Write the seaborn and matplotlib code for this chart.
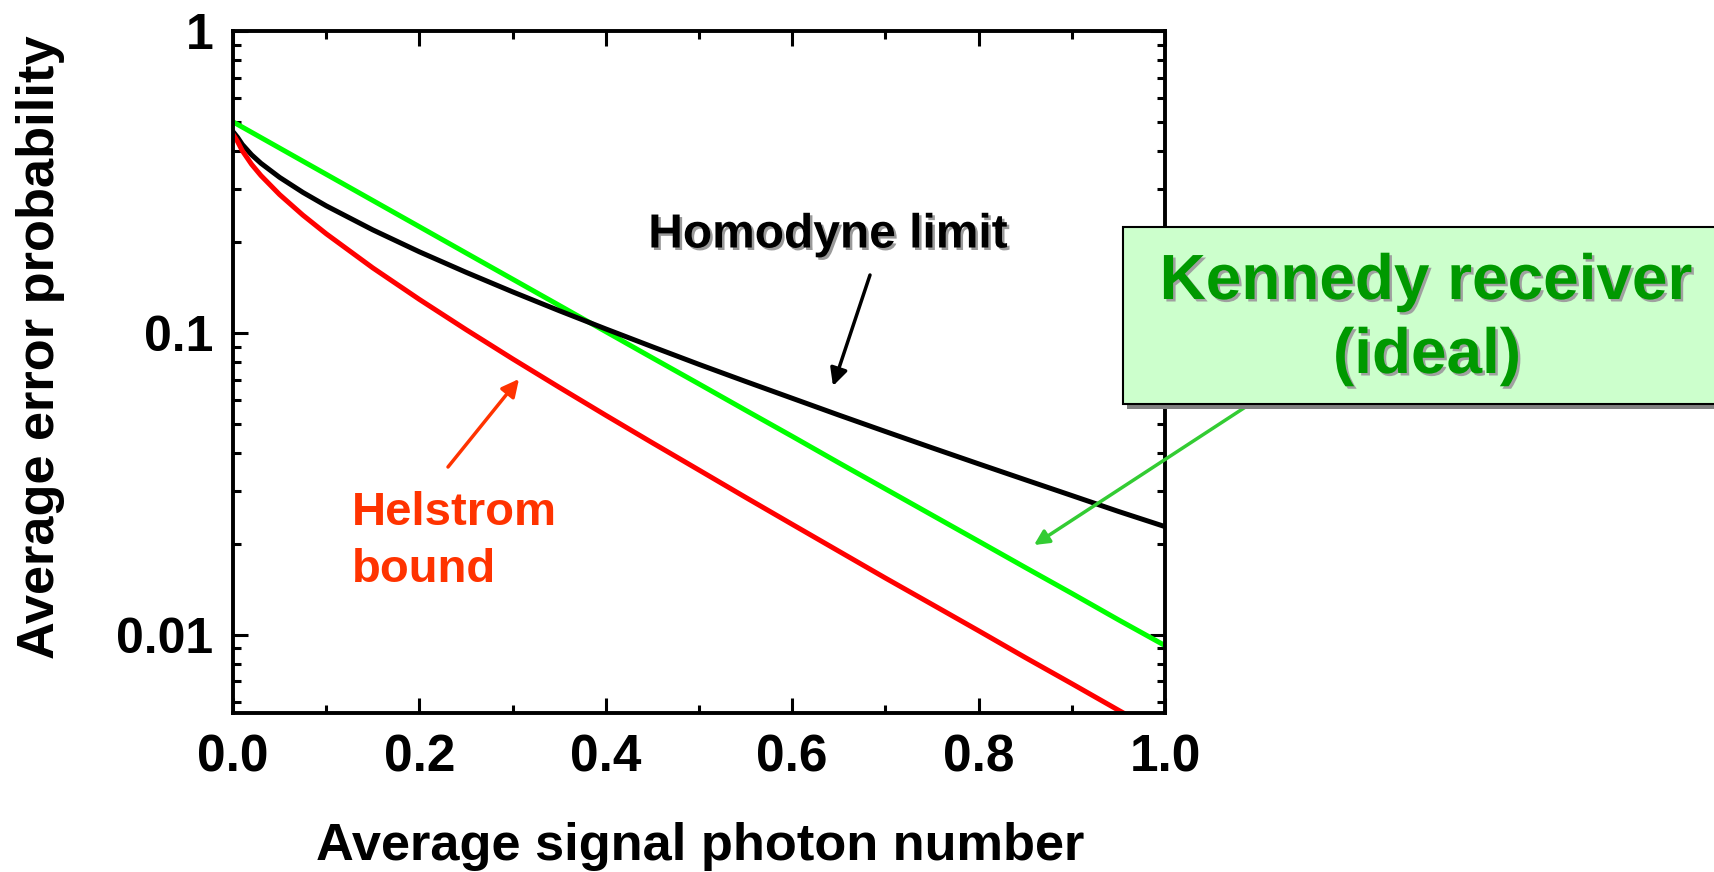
import matplotlib
matplotlib.use("Agg")
import numpy as np
import pandas as pd
import seaborn as sns
import matplotlib.pyplot as plt
from matplotlib import patheffects as pe
from matplotlib.patches import Rectangle
from matplotlib.ticker import FixedLocator, NullFormatter, FixedFormatter

# Average signal photon number
photon_number = [0.0, 0.005, 0.01, 0.02, 0.03, 0.05, 0.075, 0.1, 0.15, 0.2, 0.25,
                 0.3, 0.35, 0.4, 0.45, 0.5, 0.55, 0.6, 0.65, 0.7, 0.75, 0.8,
                 0.85, 0.9, 0.95, 1.0]

# Average error probability for each receiver
helstrom = [0.455, 0.4296, 0.4010, 0.3614, 0.3319, 0.2871, 0.2454, 0.2129, 0.1641,
            0.1290, 0.1025, 0.0820, 0.0660, 0.0533, 0.0432, 0.0351, 0.0285, 0.0232,
            0.0189, 0.0154, 0.0126, 0.0103, 0.0084, 0.00688, 0.00562, 0.0046]
homodyne = [0.464, 0.4438, 0.4207, 0.3887, 0.3645, 0.3274, 0.2919, 0.2635, 0.2193,
            0.1855, 0.1587, 0.1367, 0.1184, 0.1030, 0.0899, 0.0786, 0.0690, 0.0607,
            0.0534, 0.0471, 0.0416, 0.0368, 0.0326, 0.0289, 0.0256, 0.0228]
kennedy = [0.5, 0.4901, 0.4804, 0.4616, 0.4435, 0.4094, 0.3704, 0.3352, 0.2744,
           0.2247, 0.1839, 0.1506, 0.1233, 0.1009, 0.0826, 0.0677, 0.0554, 0.0454,
           0.0371, 0.0304, 0.0249, 0.0204, 0.0167, 0.0137, 0.0112, 0.0092]

x_ticks = [0.0, 0.2, 0.4, 0.6, 0.8, 1.0]
x_tick_labels = ["0.0", "0.2", "0.4", "0.6", "0.8", "1.0"]
y_ticks = [0.01, 0.1, 1.0]
y_tick_labels = ["0.01", "0.1", "1"]

sns.set_theme(style="ticks")
plt.rcParams["font.family"] = ["Liberation Sans", "DejaVu Sans"]
plt.rcParams["font.weight"] = "bold"
for key in ("text.color", "axes.labelcolor", "xtick.color", "ytick.color",
            "axes.edgecolor"):
    plt.rcParams[key] = "black"

W, H = 1715, 872
fig = plt.figure(figsize=(W / 100, H / 100), dpi=100)
ax = fig.add_axes([233 / W, 1 - 713 / H, (1165 - 233) / W, (713 - 31) / H])


def fx(px):
    return px / W


def fy(py):
    return 1 - py / H


df = pd.DataFrame({
    "n": photon_number * 3,
    "p": helstrom + homodyne + kennedy,
    "curve": ["Helstrom"] * len(photon_number) + ["Homodyne"] * len(photon_number)
             + ["Kennedy"] * len(photon_number),
})
palette = {"Helstrom": "#ff0000", "Homodyne": "#000000", "Kennedy": "#00ff00"}
sns.lineplot(data=df, x="n", y="p", hue="curve", palette=palette, linewidth=3.6,
             legend=False, ax=ax, hue_order=["Kennedy", "Homodyne", "Helstrom"])

ax.set_yscale("log")
ax.set_xlim(0, 1)
ax.set_ylim(0.0055, 1.0)
ax.xaxis.set_major_locator(FixedLocator(x_ticks))
ax.xaxis.set_major_formatter(FixedFormatter(x_tick_labels))
ax.xaxis.set_minor_locator(FixedLocator([0.1, 0.3, 0.5, 0.7, 0.9]))
ax.yaxis.set_major_locator(FixedLocator(y_ticks))
ax.yaxis.set_major_formatter(FixedFormatter(y_tick_labels))
minor_y = [m * 10.0 ** e for e in (-3, -2, -1) for m in range(2, 10)]
ax.yaxis.set_minor_locator(FixedLocator(minor_y))
ax.yaxis.set_minor_formatter(NullFormatter())
ax.set_xlabel("")
ax.set_ylabel("")

for s in ax.spines.values():
    s.set_linewidth(2.8)
    s.set_color("black")
    s.set_visible(True)
ax.tick_params(which="both", direction="in", top=True, right=True, color="black",
               width=2.2)
ax.tick_params(which="major", length=11)
ax.tick_params(which="minor", length=6)
ax.tick_params(axis="x", which="major", pad=15, labelsize=37, labelcolor="black")
ax.tick_params(axis="y", which="major", pad=14, labelsize=36, labelcolor="black")
for lbl in ax.get_xticklabels() + ax.get_yticklabels():
    lbl.set_fontweight("bold")

# axis titles
fig.text(fx(700), fy(846), "Average signal photon number", ha="center", va="center",
         fontsize=37.7, fontweight="bold")
fig.text(fx(41), fy(347), "Average error probability", ha="center", va="center",
         rotation=90, fontsize=37.7, fontweight="bold")

# Homodyne label and arrow
fig.text(fx(828), fy(235), "Homodyne limit", ha="center", va="center", fontsize=34.5,
         fontweight="bold", color="black",
         path_effects=[pe.withSimplePatchShadow(offset=(1.8, -1.8),
                                                shadow_rgbFace="#9a9a9a", alpha=1)])
ax.annotate("", xy=(fx(833), fy(386)), xycoords="figure fraction",
            xytext=(fx(870), fy(275)), textcoords="figure fraction",
            arrowprops=dict(arrowstyle="-|>", color="black", lw=2.5,
                            mutation_scale=26, shrinkA=0, shrinkB=0))

# Helstrom label and arrow
fig.text(fx(352), fy(513), "Helstrom", ha="left", va="center", fontsize=34,
         fontweight="bold", color="#ff3300")
fig.text(fx(352), fy(570), "bound", ha="left", va="center", fontsize=34,
         fontweight="bold", color="#ff3300")
ax.annotate("", xy=(fx(519), fy(379)), xycoords="figure fraction",
            xytext=(fx(448), fy(467)), textcoords="figure fraction",
            arrowprops=dict(arrowstyle="-|>", color="#ff3300", lw=2.5,
                            mutation_scale=26, shrinkA=0, shrinkB=0))

# Kennedy callout box
shadow = Rectangle((fx(1127), fy(409)), fx(700), fy(232) - fy(409),
                   transform=fig.transFigure, facecolor="#808080", edgecolor="none",
                   zorder=5)
box = Rectangle((fx(1123), fy(404)), fx(700), fy(227) - fy(404),
                transform=fig.transFigure, facecolor="#ccffcc", edgecolor="black",
                linewidth=1.5, zorder=6)
fig.add_artist(shadow)
fig.add_artist(box)
ken_fx = [pe.withSimplePatchShadow(offset=(1.8, -1.8), shadow_rgbFace="#a0a0a0",
                                   alpha=1)]
fig.text(fx(1426), fy(282), "Kennedy receiver", ha="center", va="center",
         fontsize=46, fontweight="bold", color="#009900", zorder=7,
         path_effects=ken_fx)
fig.text(fx(1427), fy(356), "(ideal)", ha="center", va="center",
         fontsize=46, fontweight="bold", color="#009900", zorder=7,
         path_effects=ken_fx)
ax.annotate("", xy=(fx(1034), fy(545)), xycoords="figure fraction",
            xytext=(fx(1247), fy(406)), textcoords="figure fraction",
            arrowprops=dict(arrowstyle="-|>", color="#33cc33", lw=2.5,
                            mutation_scale=22, shrinkA=0, shrinkB=0), zorder=4)

fig.savefig("out.png", dpi=100)
